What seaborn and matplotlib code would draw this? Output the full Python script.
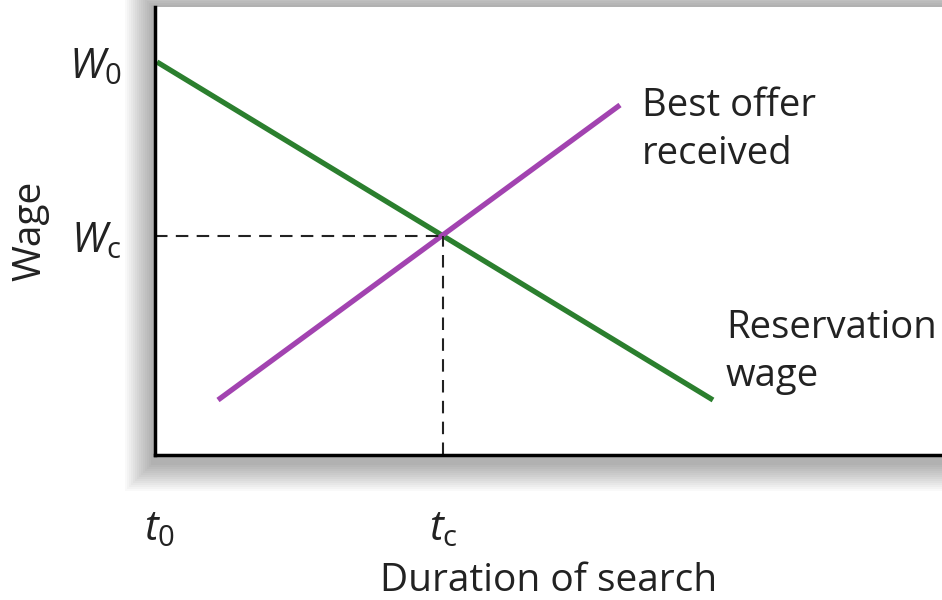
import matplotlib
matplotlib.use("Agg")
import matplotlib.pyplot as plt
import seaborn as sns
import pandas as pd
from matplotlib.patches import Rectangle

# ── Data (axis units: duration of search / wage) ─────────────────────────────
reservation_t    = [2, 558]
reservation_wage = [393, 55]
offer_t          = [63, 465]
offer_wage       = [55, 350]

t_0, t_c = 4, 288
w_0, w_c = 393, 219

x_ticks  = [t_0, t_c]
x_labels = [r"$t_0$", r"$t_{\mathrm{c}}$"]
y_ticks  = [w_0, w_c]
y_labels = [r"$W_0$", r"$W_{\mathrm{c}}$"]

GREEN  = "#2b7f2e"
PURPLE = "#a243b0"
TEXT   = "#222222"
FONT   = "Open Sans"

# ── Style ─────────────────────────────────────────────────────────────────────
sns.set_theme(style="white")
plt.rcParams["font.family"] = [FONT, "DejaVu Sans"]
plt.rcParams["mathtext.fontset"] = "custom"
plt.rcParams["mathtext.rm"] = FONT
plt.rcParams["mathtext.it"] = f"{FONT}:italic"

fig = plt.figure(figsize=(9.42, 6.0), dpi=100)
fig.patch.set_facecolor("white")

W, H = 942, 600
left, bottom, top = 155 / W, 145 / H, 1 - 7 / H

# soft drop shadow behind the plot box (stacked faint rectangles)
n_layers = 14
for i in range(n_layers):
    d = (n_layers - i) * 2.0   # spread in px, outer layers first
    fig.patches.append(Rectangle(
        (left - (d + 2) / W, bottom - (d + 8) / H),
        1.2, (top - bottom) + (d + 8) / H + min(d, 7) / H,
        transform=fig.transFigure, facecolor="black", alpha=0.022,
        edgecolor="none", zorder=0))

ax = fig.add_axes([left, bottom, 1 - left, top - bottom])
ax.set_facecolor("white")
ax.set_zorder(1)

df = pd.concat([
    pd.DataFrame({"t": reservation_t, "w": reservation_wage, "curve": "Reservation wage"}),
    pd.DataFrame({"t": offer_t, "w": offer_wage, "curve": "Best offer received"}),
])
sns.lineplot(data=df, x="t", y="w", hue="curve",
             palette={"Reservation wage": GREEN, "Best offer received": PURPLE},
             linewidth=3.8, legend=False, ax=ax, solid_capstyle="butt")

# dashed guides to the crossing point
ax.plot([0, t_c], [w_c, w_c], color=TEXT, lw=1.5, ls=(0, (6, 4)))
ax.plot([t_c, t_c], [0, w_c], color=TEXT, lw=1.5, ls=(0, (6, 4)))

ax.set_xlim(0, 787)
ax.set_ylim(0, 448)

for side in ["top", "right"]:
    ax.spines[side].set_visible(False)
for side in ["left", "bottom"]:
    ax.spines[side].set_color("black")
    ax.spines[side].set_linewidth(2.5)

ax.set_xticks(x_ticks, x_labels)
ax.set_yticks(y_ticks, y_labels)
ax.tick_params(axis="x", length=0, pad=38, labelsize=30, colors=TEXT)
ax.tick_params(axis="y", length=0, pad=24, labelsize=30, colors=TEXT)
ax.set_xlabel("Duration of search", fontsize=28, color=TEXT, labelpad=9)
ax.set_ylabel("Wage", fontsize=28, color=TEXT, labelpad=14)

ax.text(487, 325, "Best offer\nreceived", fontsize=27.5, color=TEXT,
        ha="left", va="center", linespacing=1.35)
ax.text(571, 103, "Reservation\nwage", fontsize=27.5, color=TEXT,
        ha="left", va="center", linespacing=1.35)

fig.savefig("out.png", dpi=100)
